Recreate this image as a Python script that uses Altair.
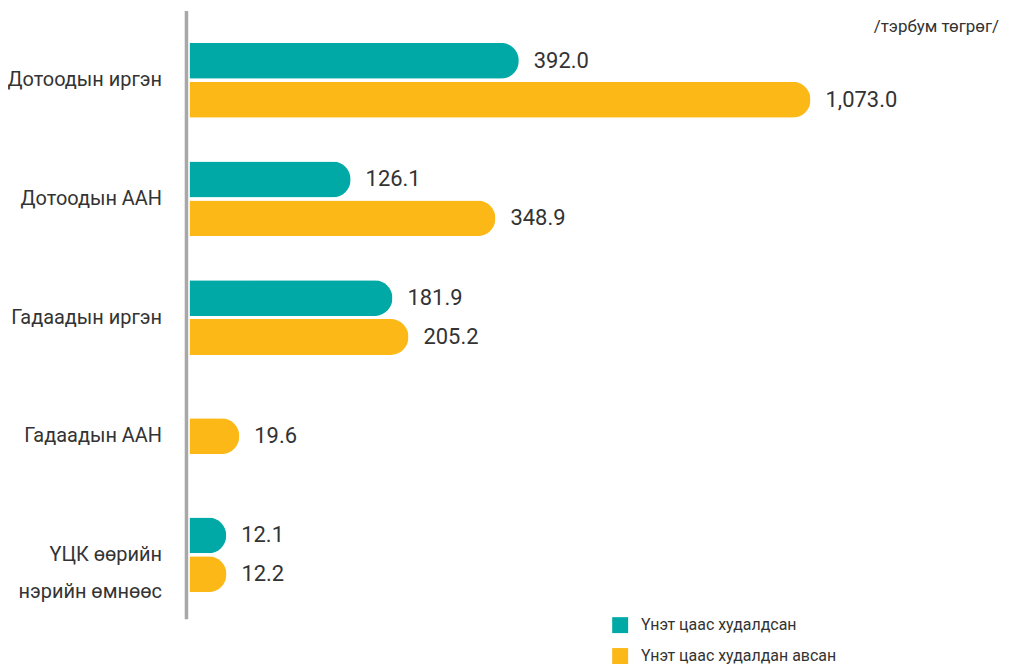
import altair as alt
import pandas as pd

categories = ["Дотоодын иргэн", "Дотоодын ААН", "Гадаадын иргэн", "Гадаадын ААН", "ҮЦК өөрийн|нэрийн өмнөөс"]
series = ["Үнэт цаас худалдсан", "Үнэт цаас худалдан авсан"]
sold = [392.0, 126.1, 181.9, None, 12.1]
bought = [1073.0, 348.9, 205.2, 19.6, 12.2]
colors = ["#00a9a6", "#fcb817"]
unit = "/тэрбум төгрөг/"

FONT = "Roboto, sans-serif"

rows = []
for c, s, b in zip(categories, sold, bought):
    if s is not None:
        rows.append({"cat": c, "series": series[0], "value": s, "off": -1})
        rows.append({"cat": c, "series": series[1], "value": b, "off": 1})
    else:
        rows.append({"cat": c, "series": series[1], "value": b, "off": 0})
df = pd.DataFrame(rows)

xscale = alt.Scale(type="pow", exponent=0.63, domain=[0, 1073], nice=False, zero=True)

base = alt.Chart(df).encode(
    y=alt.Y("cat:N", sort=categories, title=None,
            scale=alt.Scale(paddingInner=1, paddingOuter=0.5),
            axis=alt.Axis(domain=False, ticks=False, labelPadding=28, labelFontSize=20,
                          labelFont=FONT, labelColor="#333333", labelLineHeight=37,
                          labelExpr="split(datum.label, '|')", labelLimit=300)),
    yOffset=alt.YOffset("off:Q", scale=alt.Scale(domain=[-1, 1], range=[-19.5, 19.5])),
)

bars = base.mark_bar(size=36, cornerRadiusEnd=18).encode(
    x=alt.X("value:Q", scale=xscale, axis=None),
    color=alt.Color("series:N", sort=series,
                    scale=alt.Scale(domain=series, range=colors),
                    legend=alt.Legend(title=None, orient="none", legendX=424, legendY=598,
                                      symbolType="square", symbolSize=256, symbolStrokeWidth=0,
                                      symbolOpacity=1, labelFont=FONT, labelFontSize=16,
                                      labelColor="#333333", labelOffset=13, rowPadding=15,
                                      padding=0, labelLimit=400)),
)

labels = base.mark_text(align="left", baseline="middle", dx=15, fontSize=22,
                        font=FONT, color="#333333").encode(
    x=alt.X("value:Q", scale=xscale),
    text=alt.Text("value:Q", format=",.1f"),
)

rule = alt.Chart(pd.DataFrame({"a": [0]})).mark_rule(color="#a8a8a8", strokeWidth=3.5).encode(
    x=alt.value(-3), y=alt.value(-10), y2=alt.value(600)
)

chart = alt.layer(rule, bars, labels).properties(
    width=623, height=595,
    title=alt.TitleParams(unit, anchor="end", orient="top", frame="group", dx=189, dy=44,
                          fontSize=17, font=FONT, fontWeight="normal", color="#333333",
                          baseline="alphabetic"),
    autosize=alt.AutoSizeParams(type="none"),
    padding={"left": 182, "top": 12, "right": 195, "bottom": 50},
).configure_view(stroke=None)

chart.save("out.html", embed_options={"renderer": "svg", "actions": False})
